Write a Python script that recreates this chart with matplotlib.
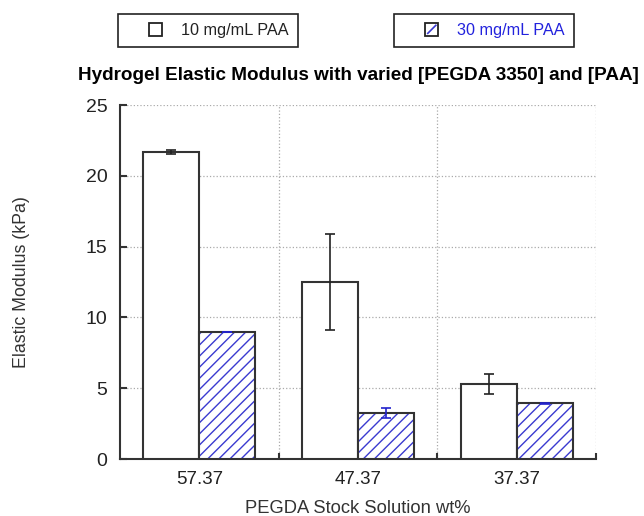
import numpy as np
import matplotlib
matplotlib.use('Agg')
import matplotlib.pyplot as plt
from matplotlib.patches import Rectangle, Patch
from matplotlib.lines import Line2D
from matplotlib.legend_handler import HandlerBase

plt.rcParams['font.family'] = ['Liberation Sans', 'DejaVu Sans']
plt.rcParams['hatch.linewidth'] = 1.0

# PEGDA stock wt% groups and moduli (kPa) for the two PAA concentrations
groups = ['57.37', '47.37', '37.37']
paa10 = [21.68, 12.5, 5.3]
paa10_err = [0.15, 3.4, 0.7]
paa30 = [9.0, 3.25, 3.92]
paa30_err = [0.0, 0.33, 0.05]

fig = plt.figure(figsize=(6.44, 5.16), dpi=100)
ax = fig.add_axes([120/644, 1 - 459/516, 476/644, 354/516])

x = np.arange(len(groups)) + 0.5
w = 0.353
edge = '#333333'
blue = '#3a3ad0'

ax.bar(x - w/2, paa10, w, color='white', edgecolor=edge, linewidth=1.5, zorder=3)
# hatch takes the edge colour, so fill blue hatch first, then outline on top
ax.bar(x + w/2, paa30, w, color='white', edgecolor=blue, linewidth=0,
       hatch='///', zorder=3)
ax.bar(x + w/2, paa30, w, fill=False, edgecolor=edge, linewidth=1.5, zorder=3)
ax.errorbar(x - w/2, paa10, yerr=paa10_err, fmt='none', ecolor='#222222',
            elinewidth=1.2, capsize=3.5, capthick=1.2, zorder=4)
ax.errorbar(x + w/2, paa30, yerr=paa30_err, fmt='none', ecolor='#2222cc',
            elinewidth=1.2, capsize=3.5, capthick=1.2, zorder=4)

ax.set_xlim(0, 3)
ax.set_ylim(0, 25)
ax.set_yticks(np.arange(0, 26, 5))
ax.set_xticks([1, 2, 3])
ax.set_xticklabels([])
ax.set_xticks(x, minor=True)
ax.set_xticklabels(groups, minor=True)
ax.tick_params(axis='x', which='minor', length=0, pad=9, labelsize=13.5,
               labelcolor='#222222')
ax.tick_params(axis='x', which='major', direction='in', length=4, width=1.5, color=edge)
ax.tick_params(axis='y', direction='in', length=5, width=1.5, color=edge,
               pad=9, labelsize=14, labelcolor='#222222')

ax.grid(True, which='major', linestyle=':', color='#aaaaaa', linewidth=0.9, zorder=0)
for s in ['top', 'right']:
    ax.spines[s].set_visible(False)
for s in ['left', 'bottom']:
    ax.spines[s].set_color(edge)
    ax.spines[s].set_linewidth(1.5)

ax.set_xlabel('PEGDA Stock Solution wt%', fontsize=13.2, color='#333333', labelpad=8)
ax.set_ylabel('Elastic Modulus (kPa)', fontsize=12.8, color='#333333', labelpad=40)
ax.set_title('Hydrogel Elastic Modulus with varied [PEGDA 3350] and [PAA]',
             fontsize=13.6, fontweight='bold', pad=18)


class SquareKey(HandlerBase):
    # small open square, with one blue diagonal when the handle is hatched
    def create_artists(self, legend, orig_handle, xdescent, ydescent,
                       width, height, fontsize, trans):
        s = 0.78 * fontsize
        x0 = width/2 - s/2 - xdescent
        y0 = height/2 - s/2 - ydescent
        arts = [Rectangle((x0, y0), s, s, facecolor='white', edgecolor='#222222',
                          linewidth=1.3, transform=trans)]
        if orig_handle.get_hatch():
            d = 0.18 * s
            arts.append(Line2D([x0 + d, x0 + s - d], [y0 + d, y0 + s - d],
                               color=blue, linewidth=1.2, transform=trans))
        return arts


h10 = Patch(facecolor='white', edgecolor='black')
h30 = Patch(facecolor='white', edgecolor='black', hatch='/')

for h, lab, cx, col in [(h10, '10 mg/mL PAA', 208/644, '#222222'),
                        (h30, '30 mg/mL PAA', 484/644, '#2222dd')]:
    leg = fig.legend([h], [lab], loc='center', bbox_to_anchor=(cx, 1 - 30.5/516),
                     fontsize=11.7, frameon=True, fancybox=False, edgecolor='#222222',
                     framealpha=1, borderpad=0.56, handlelength=3.5,
                     handletextpad=-0.2, handler_map={Patch: SquareKey()})
    leg.get_frame().set_linewidth(1.2)
    for t in leg.get_texts():
        t.set_color(col)

fig.savefig('out.png', dpi=100)
